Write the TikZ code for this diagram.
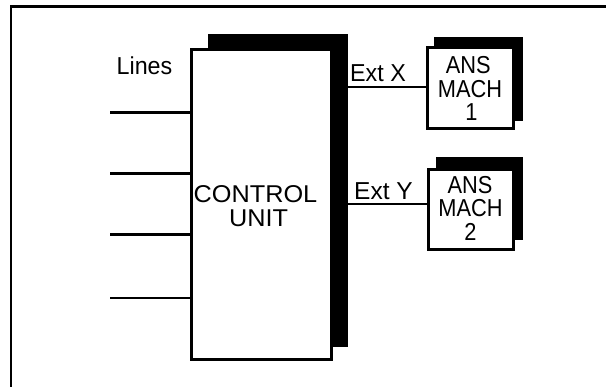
\documentclass[tikz,border=0pt]{standalone}
\usepackage{fontspec}
\setmainfont{Liberation Sans}
\newfontfamily\fwide[FakeStretch=1.04]{Liberation Sans}
\newfontfamily\fmid[FakeStretch=0.95]{Liberation Sans}
\newfontfamily\fnarrow[FakeStretch=0.89]{Liberation Sans}
\begin{document}
\begin{tikzpicture}[x=1pt,y=-1pt,
  box/.style={draw, line width=3pt, fill=white, inner sep=0pt},
  shadowbox/.style={fill=black, inner sep=0pt},
  lbl/.style={anchor=base, font=\fmid\fontsize{24.5}{26}\selectfont, inner sep=0pt},
  cutext/.style={lbl, font=\fwide\fontsize{24.3}{26}\selectfont},
  anstext/.style={lbl, font=\fnarrow\fontsize{24.5}{26}\selectfont},
  wire/.style={line width=3pt},
  thinwire/.style={line width=2.3pt}]
\useasboundingbox (0,0) rectangle (606,387);
\fill[white] (0,0) rectangle (606,387);
% outer frame (cut by page edges)
\draw[line width=2.5pt] (11,400) -- (11,6.3) -- (620,6.3);
% control unit
\node[shadowbox, minimum width=139.5pt, minimum height=313pt] (cush) at (277.75,190.5) {};
\node[box, minimum width=140pt, minimum height=309.5pt] (cu) at (261.5,204.75) {};
% answering machines
\node[shadowbox, minimum width=88.5pt, minimum height=84pt] (a1sh) at (478.25,79) {};
\node[box, minimum width=85.5pt, minimum height=81pt] (a1) at (470.25,88.5) {};
\node[shadowbox, minimum width=86.5pt, minimum height=83pt] (a2sh) at (479.25,198.5) {};
\node[box, minimum width=85pt, minimum height=80pt] (a2) at (470.5,210) {};
% lines
\coordinate (l1) at (110,112.7);
\coordinate (l2) at (110,173.3);
\coordinate (l3) at (110,235);
\coordinate (l4) at (110,297.7);
\draw[wire] (l1) -- (l1 -| cu.west);
\draw[wire] (l2) -- (l2 -| cu.west);
\draw[wire] (l3) -- (l3 -| cu.west);
\draw[thinwire] (l4) -- (l4 -| cu.west);
% extensions
\coordinate (ex) at (347,87);
\coordinate (ey) at (347,204);
\draw[thinwire] (ex) -- (ex -| a1.west);
\draw[thinwire] (ey) -- (ey -| a2.west);
% labels
\node[lbl] (tlines) at (144.5,75) {Lines};
\node[cutext] (tcontrol) at (255.5,202.3) {CONTROL};
\node[cutext] (tunit) at (258.5,227) {UNIT};
\node[lbl] (textx) at (378,81.7) {Ext X};
\node[lbl, font=\fontsize{24.5}{26}\selectfont] (texty) at (383.5,200) {Ext Y};
\node[anstext] (a1l1) at (468.3,74) {ANS};
\node[anstext] (a1l2) at (470,97.7) {MACH};
\node[anstext] (a1l3) at (471.5,120.7) {1};
\node[anstext] (a2l1) at (470,193.3) {ANS};
\node[anstext] (a2l2) at (470.5,216.7) {MACH};
\node[anstext] (a2l3) at (470.5,241) {2};
\end{tikzpicture}
\end{document}
